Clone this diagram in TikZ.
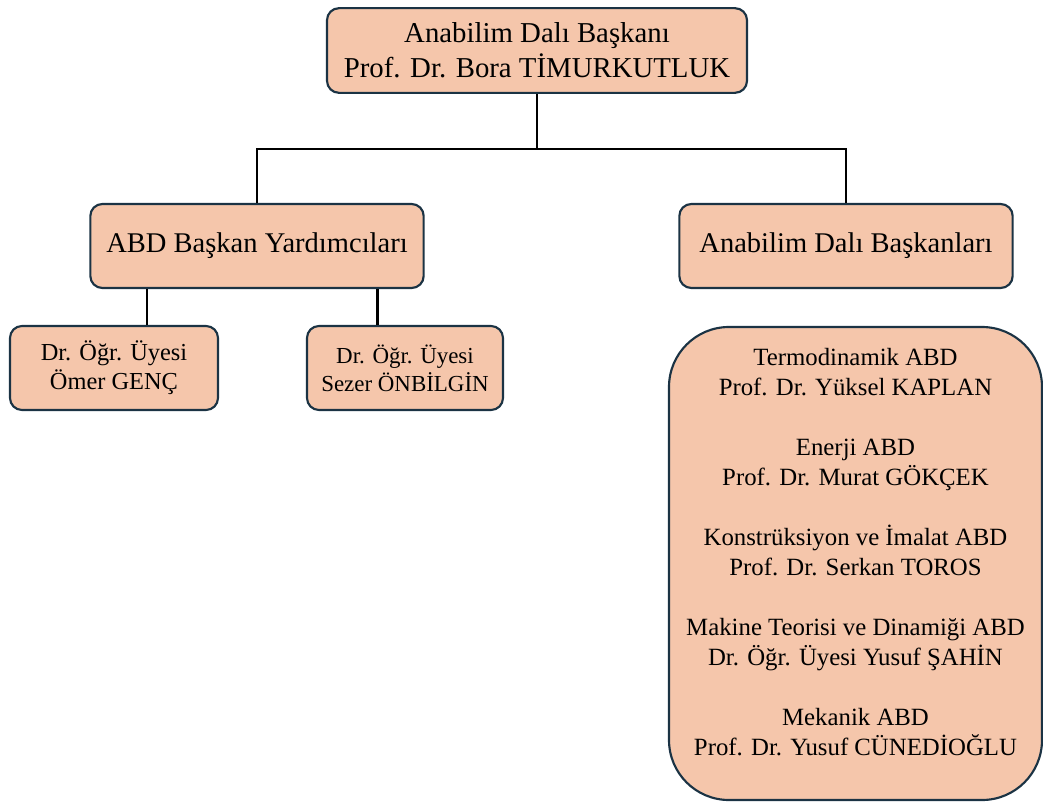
\documentclass[tikz,border=0pt]{standalone}
\usepackage{fontspec}
\setmainfont{Liberation Serif}
\usepackage{tikz}
\usetikzlibrary{calc}
\definecolor{peach}{HTML}{F5C6AB}
\definecolor{edge}{HTML}{1B3344}
\tikzset{
	unit/.style={draw=edge, fill=peach, line width=1.6pt, rounded corners=9pt, align=center, inner sep=0pt},
	link/.style={line width=1.6pt, black, line join=miter}
}

\begin{document}
\begin{tikzpicture}[x=0.75pt, y=-0.75pt]
		%%%%% START %%%%%
		
		\useasboundingbox (0, 0) rectangle (1043, 803);
		
		\node[unit, minimum width=315pt, minimum height=63.5pt, font=\fontsize{21.6}{26.5}\selectfont] (head) at (537, 50.5) {Anabilim Dalı Başkanı\\Prof. Dr. Bora TİMURKUTLUK};
		
		\node[unit, minimum width=250pt, minimum height=63pt, font=\fontsize{21.4}{26}\selectfont] (deputy) at (257, 246) {ABD Başkan Yardımcıları};
		\node[unit, minimum width=250pt, minimum height=63pt, font=\fontsize{21.4}{26}\selectfont] (chairs) at (846, 246) {Anabilim Dalı Başkanları};
		
		\node[unit, minimum width=156pt, minimum height=63pt, font=\fontsize{18.3}{22}\selectfont] (genc) at (114, 368) {Dr. Öğr. Üyesi\\Ömer GENÇ};
		\node[unit, minimum width=147pt, minimum height=63pt, font=\fontsize{17.2}{21}\selectfont] (onbilgin) at (405, 368) {Dr. Öğr. Üyesi\\Sezer ÖNBİLGİN};
		
		\draw[unit, rounded corners=45pt] (669, 327) rectangle (1042, 800);
		\node[align=center, font=\fontsize{18.6}{22.5}\selectfont] (heads) at (855.5, 552) {Termodinamik ABD\\Prof. Dr. Yüksel KAPLAN\\[22.5pt]
			Enerji ABD\\Prof. Dr. Murat GÖKÇEK\\[22.5pt]
			Konstrüksiyon ve İmalat ABD\\Prof. Dr. Serkan TOROS\\[22.5pt]
			Makine Teorisi ve Dinamiği ABD\\Dr. Öğr. Üyesi Yusuf ŞAHİN\\[22.5pt]
			Mekanik ABD\\Prof. Dr. Yusuf CÜNEDİOĞLU};
		
		\coordinate (fork) at ($(head.south)+(0, 55)$);
		\draw[link] (head.south) -- (fork);
		\draw[link] (deputy.north) |- (fork) -| (chairs.north);
		
		\coordinate (d1) at ($(deputy.south west)!0.171!(deputy.south east)$);
		\coordinate (d2) at ($(deputy.south west)!0.859!(deputy.south east)$);
		\draw[link] (d1) -- (d1 |- genc.north);
		\draw[link] (d2) -- (d2 |- onbilgin.north);
		
		%%%%% END %%%%%
	\end{tikzpicture}
\end{document}
